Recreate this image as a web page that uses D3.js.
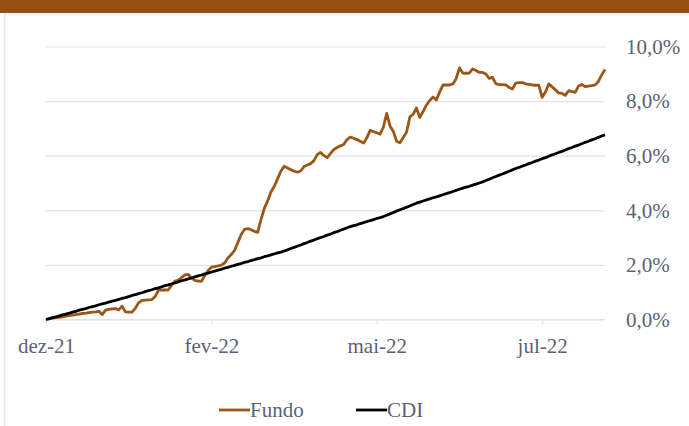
<!DOCTYPE html>
<html>
<head>
<meta charset="utf-8">
<script src="https://cdn.jsdelivr.net/npm/d3@7"></script>
<style>
  html, body { margin: 0; padding: 0; background: #fff; }
  svg { display: block; }
  svg text { font-family: 'Times New Roman', Times, Tinos, 'Noto Serif', 'DejaVu Serif', 'Liberation Serif', Georgia, serif; font-size: 21px; }
</style>
</head>
<body>
<div id="chart"></div>
<script>
  /*
    Data
  */

  // tick labels sit on every 50th point of the daily series
  let tickIndex = [0, 50, 100, 150];
  let tickLabels = ['dez-21', 'fev-22', 'mai-22', 'jul-22'];
  let yTicks = [0, 2, 4, 6, 8, 10];

  let seriesNames = ['Fundo', 'CDI'];

  // accumulated return, %
  let fundo = [
    0.00, 0.03, 0.05, 0.07, 0.08, 0.10, 0.12, 0.14, 0.16, 0.18,
    0.20, 0.22, 0.23, 0.25, 0.27, 0.28, 0.30, 0.18, 0.34, 0.37,
    0.39, 0.40, 0.35, 0.49, 0.28, 0.27, 0.27, 0.41, 0.61, 0.70,
    0.71, 0.72, 0.73, 0.84, 1.08, 1.08, 1.08, 1.09, 1.26, 1.41,
    1.44, 1.54, 1.63, 1.65, 1.52, 1.43, 1.41, 1.40, 1.61, 1.79,
    1.92, 1.94, 1.96, 1.99, 2.07, 2.25, 2.38, 2.53, 2.82, 3.11,
    3.30, 3.33, 3.29, 3.23, 3.19, 3.66, 4.07, 4.34, 4.67, 4.87,
    5.15, 5.43, 5.61, 5.55, 5.49, 5.43, 5.40, 5.44, 5.60, 5.66,
    5.71, 5.82, 6.04, 6.12, 6.01, 5.93, 6.08, 6.22, 6.30, 6.36,
    6.41, 6.59, 6.68, 6.64, 6.59, 6.53, 6.46, 6.66, 6.93, 6.88,
    6.84, 6.79, 7.05, 7.55, 7.09, 6.89, 6.53, 6.47, 6.67, 6.86,
    7.42, 7.51, 7.75, 7.40, 7.62, 7.85, 8.02, 8.15, 8.04, 8.33,
    8.59, 8.59, 8.59, 8.63, 8.82, 9.22, 9.03, 9.02, 9.03, 9.18,
    9.12, 9.05, 9.05, 8.99, 8.83, 8.87, 8.64, 8.60, 8.60, 8.59,
    8.50, 8.44, 8.66, 8.68, 8.68, 8.63, 8.61, 8.59, 8.58, 8.58,
    8.14, 8.33, 8.63, 8.52, 8.41, 8.30, 8.28, 8.21, 8.38, 8.35,
    8.32, 8.55, 8.61, 8.53, 8.55, 8.57, 8.59, 8.72, 8.96, 9.16
  ];

  let cdi = [
    0.00, 0.03, 0.07, 0.10, 0.13, 0.17, 0.20, 0.23, 0.27, 0.30,
    0.34, 0.37, 0.40, 0.44, 0.47, 0.50, 0.54, 0.57, 0.60, 0.64,
    0.67, 0.70, 0.74, 0.77, 0.80, 0.84, 0.88, 0.91, 0.95, 0.98,
    1.02, 1.06, 1.09, 1.13, 1.16, 1.20, 1.24, 1.27, 1.31, 1.34,
    1.38, 1.42, 1.45, 1.49, 1.52, 1.56, 1.60, 1.63, 1.67, 1.70,
    1.74, 1.77, 1.81, 1.84, 1.88, 1.91, 1.95, 1.98, 2.02, 2.05,
    2.09, 2.12, 2.16, 2.19, 2.23, 2.26, 2.30, 2.33, 2.37, 2.40,
    2.44, 2.47, 2.51, 2.55, 2.60, 2.64, 2.69, 2.73, 2.78, 2.82,
    2.87, 2.91, 2.96, 3.00, 3.04, 3.09, 3.13, 3.18, 3.22, 3.27,
    3.31, 3.36, 3.40, 3.44, 3.47, 3.51, 3.55, 3.59, 3.62, 3.66,
    3.70, 3.73, 3.77, 3.82, 3.87, 3.92, 3.97, 4.02, 4.06, 4.11,
    4.16, 4.21, 4.26, 4.30, 4.34, 4.38, 4.42, 4.46, 4.49, 4.53,
    4.57, 4.61, 4.65, 4.69, 4.73, 4.77, 4.81, 4.85, 4.88, 4.92,
    4.96, 5.00, 5.04, 5.09, 5.14, 5.19, 5.24, 5.29, 5.33, 5.38,
    5.43, 5.48, 5.53, 5.57, 5.62, 5.66, 5.71, 5.75, 5.80, 5.84,
    5.89, 5.93, 5.98, 6.03, 6.07, 6.12, 6.16, 6.21, 6.26, 6.30,
    6.35, 6.39, 6.44, 6.49, 6.53, 6.58, 6.62, 6.67, 6.72, 6.76
  ];

  /*
    Setup
  */

  let width = 689, height = 426;
  let brown = '#944f12';
  let lineBrown = '#9b5717';
  let gridColor = '#dfe3ea';
  let textColor = '#5a6376';

  let svg = d3.select('#chart').append('svg')
    .attr('width', width)
    .attr('height', height);

  // header band and frame
  svg.append('rect')
    .attr('x', 0).attr('y', 0)
    .attr('width', width).attr('height', 13)
    .attr('fill', brown);

  svg.append('rect')
    .attr('x', 4.5).attr('y', 14.5)
    .attr('width', width).attr('height', height)
    .attr('fill', 'none')
    .attr('stroke', '#e8eaef')
    .attr('stroke-width', 1.5);

  let x = d3.scaleLinear()
    .domain([0, fundo.length - 1])
    .range([46, 605]);

  let y = d3.scaleLinear()
    .domain([0, 10])
    .range([319.5, 46.5]);

  let ptBR = d3.formatLocale({ decimal: ',', thousands: '.', grouping: [3], currency: ['R$', ''] });
  let fmt = ptBR.format('.1f');

  /*
    Axes
  */

  let yAxis = d3.axisRight(y)
    .tickValues(yTicks)
    .tickSize(-(605 - 45))
    .tickPadding(21)
    .tickFormat(function (d) { return fmt(d) + '%'; });

  let gy = svg.append('g')
    .attr('transform', 'translate(605,0)')
    .call(yAxis)
    .attr('font-family', null)
    .attr('font-size', null);

  gy.select('.domain').remove();
  gy.selectAll('.tick line')
    .attr('stroke', gridColor)
    .attr('stroke-width', 1.2);
  gy.selectAll('.tick text')
    .attr('fill', textColor);

  let xAxis = d3.axisBottom(x)
    .tickValues(tickIndex)
    .tickSize(5)
    .tickSizeOuter(0)
    .tickPadding(14)
    .tickFormat(function (d, i) { return tickLabels[i]; });

  let gx = svg.append('g')
    .attr('transform', 'translate(0,' + y(0) + ')')
    .call(xAxis)
    .attr('font-family', null)
    .attr('font-size', null);

  gx.select('.domain')
    .attr('stroke', gridColor)
    .attr('stroke-width', 1.2)
    .attr('d', 'M45,0H605');
  gx.selectAll('.tick line')
    .attr('stroke', gridColor)
    .attr('stroke-width', 1.2);
  gx.selectAll('.tick text')
    .attr('fill', textColor);

  /*
    Lines
  */

  let lineGen = d3.line()
    .x(function (d, i) { return x(i); })
    .y(function (d) { return y(d); });

  let series = [
    { name: seriesNames[0], values: fundo, color: lineBrown },
    { name: seriesNames[1], values: cdi, color: '#000' }
  ];

  svg.selectAll('.serie')
    .data(series)
    .enter()
    .append('path')
    .attr('class', 'serie')
    .attr('fill', 'none')
    .attr('stroke', function (d) { return d.color; })
    .attr('stroke-width', 2.8)
    .attr('stroke-linejoin', 'round')
    .attr('d', function (d) { return lineGen(d.values); });

  /*
    Legend
  */

  let legendX = [219, 356];

  let legend = svg.selectAll('.legend')
    .data(series)
    .enter()
    .append('g')
    .attr('class', 'legend')
    .attr('transform', function (d, i) { return 'translate(' + legendX[i] + ',410)'; });

  legend.append('line')
    .attr('x1', 0).attr('x2', 31)
    .attr('y1', 0).attr('y2', 0)
    .attr('stroke', function (d) { return d.color; })
    .attr('stroke-width', 2.8);

  legend.append('text')
    .attr('x', 31)
    .attr('y', 7)
    .attr('fill', textColor)
    .text(function (d) { return d.name; });
</script>
</body>
</html>
